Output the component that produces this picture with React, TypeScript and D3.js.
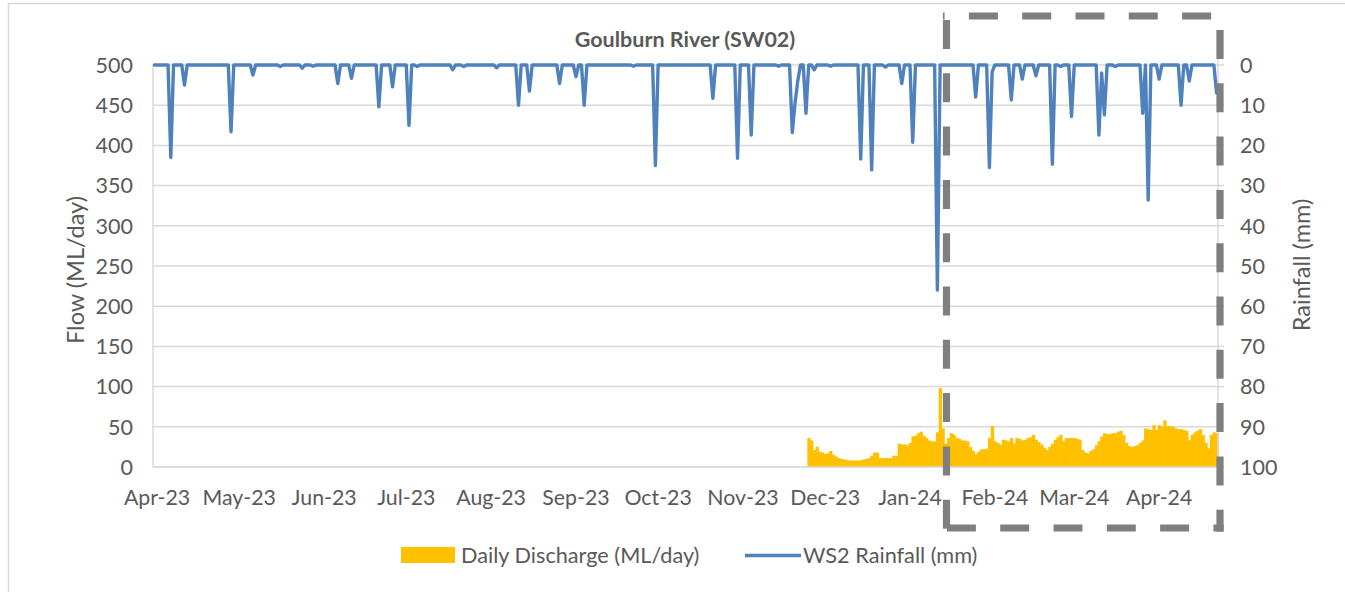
import * as d3 from "d3";

const WIDTH = 1345;
const HEIGHT = 592;
const PLOT = { left: 153, right: 1218, top: 65, bottom: 467 };
const TEXT = "#595959";
const GRID = "#d9d9d9";
const FONT = "Lato, 'Open Sans', sans-serif";

const flowTicks = [0, 50, 100, 150, 200, 250, 300, 350, 400, 450, 500];
const rainTicks = [0, 10, 20, 30, 40, 50, 60, 70, 80, 90, 100];
const monthLabels = [
  "Apr-23", "May-23", "Jun-23", "Jul-23", "Aug-23", "Sep-23", "Oct-23",
  "Nov-23", "Dec-23", "Jan-24", "Feb-24", "Mar-24", "Apr-24",
];

// rain days (mm); every other day in the record is 0
const rainfallEvents: [string, number][] = [
  ["2023-04-06", 23], ["2023-04-11", 5], ["2023-04-28", 16.6], ["2023-05-06", 2.5],
  ["2023-05-16", 0.4], ["2023-05-24", 0.8], ["2023-05-28", 0.3], ["2023-06-06", 4.6],
  ["2023-06-11", 3.3], ["2023-06-21", 10.4], ["2023-06-26", 5.4], ["2023-07-02", 15],
  ["2023-07-05", 0.4], ["2023-07-18", 1.2], ["2023-07-22", 0.4], ["2023-08-03", 0.7],
  ["2023-08-11", 10], ["2023-08-15", 6.5], ["2023-08-26", 4.6], ["2023-09-01", 2.9],
  ["2023-09-04", 10], ["2023-09-22", 0.3], ["2023-09-30", 25], ["2023-10-21", 8.3],
  ["2023-10-30", 23.2], ["2023-11-04", 17.4], ["2023-11-14", 0.3], ["2023-11-19", 16.8],
  ["2023-11-20", 9.5], ["2023-11-21", 4], ["2023-11-24", 12], ["2023-11-27", 1.2],
  ["2023-12-03", 0.3], ["2023-12-14", 23.4], ["2023-12-18", 26.1], ["2023-12-23", 0.5],
  ["2023-12-29", 4.6], ["2024-01-02", 19.2], ["2024-01-11", 56], ["2024-01-25", 8],
  ["2024-01-30", 25.5], ["2024-01-31", 1.7], ["2024-02-07", 8.7], ["2024-02-11", 3.5],
  ["2024-02-16", 2.7], ["2024-02-22", 24.7], ["2024-02-25", 0.4], ["2024-02-29", 12.8],
  ["2024-03-10", 17.4], ["2024-03-11", 2], ["2024-03-12", 12.4], ["2024-03-16", 0.4],
  ["2024-03-26", 12], ["2024-03-28", 33.6], ["2024-04-01", 3.5], ["2024-04-09", 10],
  ["2024-04-12", 4], ["2024-04-22", 7],
];
const rainfallFirstDay = "2023-03-31";
const rainfallLastDay = "2024-04-22";

// daily discharge (ML/day) from 25 Nov 2023
const dischargeStart = "2023-11-25";
const dischargeValues = [
  36, 33, 21, 25, 19, 18, 16, 17, 20, 15,
  13, 11, 10, 9.5, 8.5, 8, 8, 8, 8, 8.5,
  9.5, 10, 11, 14, 18, 18, 11, 11, 11, 11,
  11, 14, 14, 29, 28, 28, 27, 30, 38, 39,
  42, 44, 39, 36, 33, 32, 32, 43, 98, 48,
  29, 36, 42, 40, 36, 35, 33, 33, 32, 25,
  20, 16, 19, 22, 22, 23, 36, 51, 32, 30,
  28, 34, 33, 32, 36, 29, 36, 35, 33, 34,
  36, 37, 40, 34, 31, 28, 24, 21, 25, 29,
  34, 37, 40, 32, 36, 36, 36, 36, 35, 34,
  21, 18, 17, 20, 22, 27, 32, 38, 42, 41,
  41, 42, 42, 44, 45, 40, 30, 26, 25, 26,
  27, 30, 33, 48, 47, 46, 52, 46, 52, 50,
  58, 51, 51, 50, 48, 47, 47, 46, 45, 33,
  40, 43, 45, 47, 40, 30, 23, 40, 43, 42,
];

const parse = (s: string) => new Date(s + "T00:00:00Z");
const DAY = 86400000;

const x = d3
  .scaleUtc()
  .domain([new Date(Date.UTC(2023, 2, 30, 12)), new Date(Date.UTC(2024, 3, 22, 12))])
  .range([PLOT.left, PLOT.right]);
const yFlow = d3.scaleLinear().domain([0, 500]).range([PLOT.bottom, PLOT.top]);
const yRain = d3.scaleLinear().domain([0, 100]).range([PLOT.top, PLOT.bottom]);

type RainPoint = { date: Date; mm: number };

const rainLookup = new Map(rainfallEvents);
const rainfall: RainPoint[] = d3.utcDay
  .range(parse(rainfallFirstDay), new Date(parse(rainfallLastDay).getTime() + DAY))
  .map((date) => ({ date, mm: rainLookup.get(d3.utcFormat("%Y-%m-%d")(date)) ?? 0 }));

const discharge = dischargeValues.map((value, i) => ({
  date: new Date(parse(dischargeStart).getTime() + i * DAY),
  value,
}));

const months = d3.utcMonth.range(parse("2023-04-01"), parse("2024-04-02"));

// dashed highlight box
const BOX = { left: 946.5, right: 1220, top: 16, bottom: 528, width: 7.2 };
const DASH = 29;
const GAP = 24.3;

function DashedEdge({ x1, y1, x2, y2, first }: { x1: number; y1: number; x2: number; y2: number; first: number }) {
  const period = DASH + GAP;
  const offset = period - (first % period);
  return (
    <line
      x1={x1}
      y1={y1}
      x2={x2}
      y2={y2}
      stroke="#7f7f7f"
      strokeWidth={BOX.width}
      strokeDasharray={`${DASH} ${GAP}`}
      strokeDashoffset={offset}
    />
  );
}

export default function App() {
  const line = d3
    .line<RainPoint>()
    .x((d) => x(d.date))
    .y((d) => yRain(d.mm));
  const h = BOX.width / 2;

  return (
    <svg
      width={WIDTH}
      height={HEIGHT}
      style={{ position: "absolute", left: 0, top: 0, background: "#fff" }}
      fontFamily={FONT}
    >
      <rect x={8.5} y={3.5} width={1400} height={700} fill="#fff" stroke={GRID} strokeWidth={1.5} />

      <text x={685} y={47} textAnchor="middle" fontSize={21.5} fontWeight={700} fill={TEXT}>
        Goulburn River (SW02)
      </text>

      {flowTicks.map((t) => (
        <line key={t} x1={PLOT.left} x2={PLOT.right} y1={yFlow(t)} y2={yFlow(t)} stroke={GRID} strokeWidth={1.5} />
      ))}
      {rainTicks.map((t) => (
        <line key={t} x1={PLOT.right} x2={PLOT.right + 6} y1={yRain(t)} y2={yRain(t)} stroke={GRID} strokeWidth={1.5} />
      ))}

      {discharge.map((d) => {
        const x0 = x(new Date(d.date.getTime() - DAY / 2));
        const x1 = x(new Date(d.date.getTime() + DAY / 2));
        return (
          <rect
            key={d.date.getTime()}
            x={x0}
            y={yFlow(d.value)}
            width={x1 - x0 + 0.6}
            height={PLOT.bottom - yFlow(d.value)}
            fill="#ffc000"
          />
        );
      })}

      <line x1={PLOT.left} x2={PLOT.left} y1={PLOT.top} y2={PLOT.bottom} stroke={GRID} strokeWidth={1.5} />
      <line x1={PLOT.right} x2={PLOT.right} y1={PLOT.top - 8} y2={PLOT.bottom} stroke={GRID} strokeWidth={1.5} />
      <line x1={PLOT.left} x2={PLOT.right} y1={PLOT.bottom} y2={PLOT.bottom} stroke={GRID} strokeWidth={1.5} />

      <path
        d={line(rainfall) ?? undefined}
        fill="none"
        stroke="#4f81bd"
        strokeWidth={3.4}
        strokeLinejoin="round"
        strokeLinecap="round"
      />

      {flowTicks.map((t) => (
        <text key={t} x={133} y={yFlow(t)} dy="0.36em" textAnchor="end" fontSize={21.5} fill={TEXT}>
          {t}
        </text>
      ))}
      {rainTicks.map((t) => (
        <text key={t} x={1240} y={yRain(t)} dy="0.36em" textAnchor="start" fontSize={21.5} fill={TEXT}>
          {t}
        </text>
      ))}
      {months.map((m, i) => (
        <text key={i} x={x(m)} y={505} textAnchor="middle" fontSize={21.3} fill={TEXT}>
          {monthLabels[i]}
        </text>
      ))}

      <text transform="translate(76 270) rotate(-90)" textAnchor="middle" dy="0.36em" fontSize={23.5} fill={TEXT}>
        Flow (ML/day)
      </text>
      <text transform="translate(1302 265) rotate(-90)" textAnchor="middle" dy="0.36em" fontSize={23.5} fill={TEXT}>
        Rainfall (mm)
      </text>

      <DashedEdge x1={BOX.left - h} y1={BOX.top} x2={BOX.right + h} y2={BOX.top} first={26} />
      <DashedEdge x1={BOX.right} y1={BOX.top - h} x2={BOX.right} y2={BOX.bottom + h} first={17.6} />
      <DashedEdge x1={BOX.left - h} y1={BOX.bottom} x2={BOX.right + h} y2={BOX.bottom} first={4} />
      <DashedEdge x1={BOX.left} y1={BOX.top - h} x2={BOX.left} y2={BOX.bottom + h} first={7.6} />

      <rect x={401} y={547} width={54} height={16} fill="#ffc000" />
      <text x={461} y={555} dy="0.36em" fontSize={21.7} fill={TEXT}>
        Daily Discharge (ML/day)
      </text>
      <line x1={745} x2={801} y1={555.5} y2={555.5} stroke="#4f81bd" strokeWidth={3.4} />
      <text x={803} y={555} dy="0.36em" fontSize={21.7} fill={TEXT}>
        WS2 Rainfall (mm)
      </text>
    </svg>
  );
}
